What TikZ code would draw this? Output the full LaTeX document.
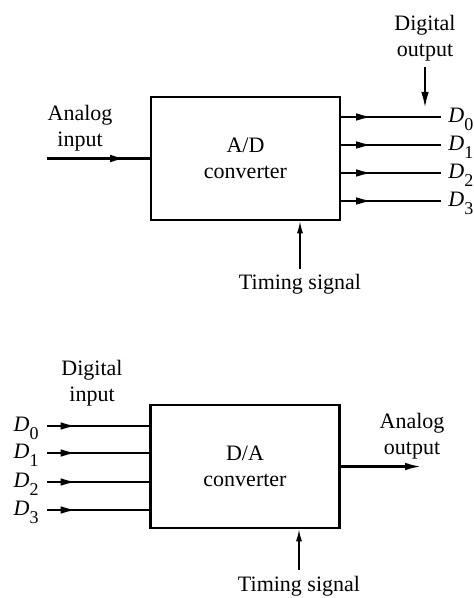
\documentclass[tikz,border=0pt]{standalone}
\usepackage{fontspec}
\setmainfont{Liberation Serif}
\usetikzlibrary{arrows.meta, positioning, decorations.markings}
\newcommand{\dbit}[1]{\textit{D}\raisebox{-0.8ex}{\small #1}}

\begin{document}
\begin{tikzpicture}[
    x=0.5pt, y=-0.5pt,
    font=\fontsize{11}{13}\selectfont,
    converter/.style={rectangle, draw, line width=1.3pt, minimum width=94.5pt, minimum height=61.5pt, align=center},
    textlbl/.style={align=center, inner sep=1pt},
    bitlbl/.style={inner sep=0pt},
    bitline/.style={line width=1.1pt},
    midarrow/.style={postaction={decorate}, decoration={markings, mark=at position #1 with {\arrow{Latex[length=8pt,width=3.8pt]}}}},
    arrow/.style={-{Latex[length=8pt,width=3.8pt]}, line width=1.1pt},
    thinarrow/.style={-{Latex[length=6pt,width=3pt]}, line width=0.7pt},
]
\useasboundingbox (0,0) rectangle (473,598);

% A/D converter
\node[converter] (adc) at (245.5,158.5) {A/D\\converter};
\node[textlbl] (ainlbl) at (80,128) {Analog\\input};
\coordinate (ain) at (47,158.5);
\draw[bitline, midarrow=0.77] (ain) -- (adc.west);

\node[textlbl] (doutlbl) at (425,38) {Digital\\output};
\coordinate (dtip) at (425,108);
\draw[arrow] ([yshift=-2pt]doutlbl.south) -- (dtip);

\foreach \i/\y in {0/117,1/145,2/173,3/201} {
    \node[bitlbl, anchor=west] (dout\i) at (448,\y+2) {\dbit{\i}};
    \draw[bitline, midarrow=0.31] (adc.east |- 0,\y) -- ([xshift=-3.5pt]dout\i.west |- 0,\y);
}

\node[textlbl] (tim1) at (300,284) {Timing signal};
\draw[thinarrow] ([yshift=1.5pt]tim1.north) -- (tim1.north |- adc.south);

% D/A converter
\node[converter] (dac) at (245,466.5) {D/A\\converter};
\node[textlbl] (dinlbl) at (92,383) {Digital\\input};

\foreach \i/\y in {0/426,1/453,2/482,3/510} {
    \node[bitlbl, anchor=east] (din\i) at (39,\y+2) {\dbit{\i}};
    \draw[bitline, midarrow=0.29] ([xshift=4pt]din\i.east |- 0,\y) -- (dac.west |- 0,\y);
}

\node[textlbl] (aoutlbl) at (412,436) {Analog\\output};
\coordinate (aout) at (421,466.5);
\draw[arrow] (dac.east) -- (aout);

\node[textlbl] (tim2) at (299,586) {Timing signal};
\draw[thinarrow] ([yshift=2pt]tim2.north) -- (tim2.north |- dac.south);

\end{tikzpicture}
\end{document}
